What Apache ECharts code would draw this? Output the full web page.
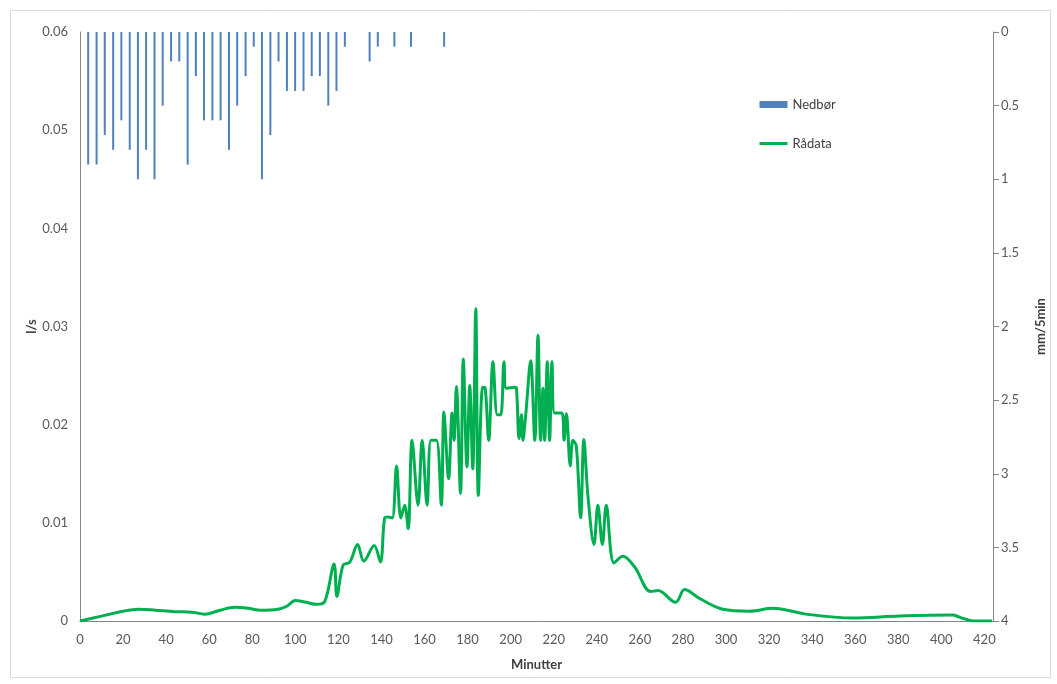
<!DOCTYPE html>
<html>
<head>
<meta charset="utf-8">
<script src="https://cdn.jsdelivr.net/npm/echarts@6/dist/echarts.min.js"></script>
<style>
html,body{margin:0;padding:0;background:#fff;}
#chart{width:1057px;height:684px;}
</style>
</head>
<body>
<div id="chart"></div>
<script>
// Rain (Nedbør), mm/5min, plotted hanging from the top on the right (inverted) axis
const rainMinutes = [3.8, 7.7, 11.5, 15.4, 19.2, 23.1, 26.9, 30.7, 34.6, 38.4, 42.3, 46.1, 50.0, 53.8, 57.6, 61.5, 65.3, 69.2, 73.0, 76.9, 80.7, 84.5, 88.4, 92.2, 96.1, 99.9, 103.8, 107.6, 111.4, 115.3, 119.1, 123.0, 134.5, 138.3, 146.0, 153.7, 169.1];
const rainValues  = [0.9, 0.9, 0.7, 0.8, 0.6, 0.8, 1.0, 0.8, 1.0, 0.5, 0.2, 0.2, 0.9, 0.3, 0.6, 0.6, 0.6, 0.8, 0.5, 0.3, 0.1, 1.0, 0.7, 0.2, 0.4, 0.4, 0.4, 0.3, 0.3, 0.5, 0.4, 0.1, 0.2, 0.1, 0.1, 0.1, 0.1];

// Raw flow data (Rådata), l/s
const flowMinutes = [0, 10, 20, 27, 35, 44, 52, 58, 65, 72, 78, 84, 92, 96, 100, 105, 110, 113.7, 118, 119.3, 122.2, 125.3, 128.9, 131.8, 136.6, 139.5, 141.5, 143.1, 145, 147, 149, 150.8, 152.4, 154.2, 157, 158.9, 161.2, 163, 165.5, 167.8, 169, 171.2, 172.8, 173.7, 174.8, 176.7, 178, 179.7, 181, 182.4, 183.8, 185, 187, 188.2, 189.8, 191.8, 193.8, 195.4, 196.9, 198, 201.9, 202.7, 203.9, 205, 205.7, 207, 209.3, 211.2, 212.7, 213.9, 215, 215.8, 217, 218.1, 219.2, 220.4, 223.8, 224.8, 225.9, 227.7, 228.9, 230.5, 232.5, 234, 235.9, 238.7, 240.5, 242.6, 244.4, 248, 252.1, 257.6, 265, 268.4, 276.6, 280.8, 287.7, 298.5, 311, 321.8, 337.2, 358.9, 380.5, 405.3, 408.4, 414.6, 423.5];
const flowValues  = [0, 0.0005, 0.001, 0.0012, 0.0011, 0.00095, 0.0009, 0.0007, 0.0011, 0.0014, 0.0013, 0.0011, 0.0012, 0.0015, 0.0021, 0.0019, 0.0017, 0.002, 0.0058, 0.0025, 0.0057, 0.006, 0.0078, 0.0061, 0.0077, 0.006, 0.0105, 0.0106, 0.0105, 0.0158, 0.0105, 0.0118, 0.0094, 0.0184, 0.0118, 0.0184, 0.0118, 0.0184, 0.0184, 0.0118, 0.0213, 0.0145, 0.0212, 0.0184, 0.0239, 0.013, 0.0267, 0.0157, 0.024, 0.0155, 0.0318, 0.0128, 0.0238, 0.0237, 0.0184, 0.0264, 0.021, 0.021, 0.0264, 0.0237, 0.0238, 0.0237, 0.0186, 0.021, 0.0184, 0.021, 0.0265, 0.0184, 0.0291, 0.0184, 0.0237, 0.0184, 0.0264, 0.0184, 0.0264, 0.0212, 0.0212, 0.0184, 0.0211, 0.0158, 0.0184, 0.0178, 0.0105, 0.0185, 0.0127, 0.0078, 0.0118, 0.0078, 0.0118, 0.0059, 0.0066, 0.0055, 0.003, 0.0031, 0.0019, 0.0032, 0.0023, 0.0012, 0.001, 0.0013, 0.0007, 0.0003, 0.0005, 0.0006, 0.0004, 0, 0];

const xTicks = {min: 0, max: 424, interval: 20};
const leftTicks = {min: 0, max: 0.06, interval: 0.01};
const rightTicks = {min: 0, max: 4, interval: 0.5};

const FONT = 'Lato, "Open Sans", sans-serif';
const chart = echarts.init(document.getElementById('chart'), null, {renderer: 'canvas'});

const rainData = rainMinutes.map((m, i) => [m, rainValues[i]]);
const flowData = flowMinutes.map((m, i) => [m, flowValues[i]]);

chart.setOption({
  animation: false,
  backgroundColor: '#ffffff',
  textStyle: {fontFamily: FONT},
  grid: {left: 80, right: 64, top: 32, bottom: 63, containLabel: false, outerBoundsMode: 'none'},
  graphic: [{
    type: 'rect', left: 8, top: 8, silent: true,
    shape: {width: 1040, height: 667},
    style: {fill: 'none', stroke: '#d9d9d9', lineWidth: 1}
  }],
  legend: {
    orient: 'vertical', left: 753, top: 93, itemGap: 26,
    itemWidth: 28, itemHeight: 7,
    textStyle: {fontFamily: FONT, fontSize: 13, color: '#404040'},
    data: [
      {name: 'Nedbør', icon: 'rect'},
      {name: 'Rådata', itemStyle: {opacity: 0}, lineStyle: {width: 3}}
    ]
  },
  xAxis: {
    type: 'value', min: xTicks.min, max: xTicks.max, interval: xTicks.interval,
    name: 'Minutter', nameLocation: 'middle', nameGap: 37,
    nameTextStyle: {fontFamily: FONT, fontSize: 13, fontWeight: 'bold', color: '#404040'},
    axisLine: {show: true, onZero: false, lineStyle: {color: '#868686', width: 1}},
    axisTick: {show: false},
    splitLine: {show: false},
    axisLabel: {
      fontFamily: FONT, fontSize: 13, color: '#595959', margin: 12,
      showMaxLabel: false,
      formatter: v => (v % 20 === 0 ? String(v) : '')
    }
  },
  yAxis: [{
    type: 'value', position: 'left', min: leftTicks.min, max: leftTicks.max, interval: leftTicks.interval,
    name: 'l/s', nameLocation: 'middle', nameGap: 42, nameMoveOverlap: false,
    nameTextStyle: {fontFamily: FONT, fontSize: 13, fontWeight: 'bold', color: '#404040'},
    axisLine: {show: true, lineStyle: {color: '#868686', width: 1}},
    axisTick: {show: false},
    splitLine: {show: false},
    axisLabel: {fontFamily: FONT, fontSize: 13, color: '#595959', margin: 12,
      formatter: v => (v === 0 ? '0' : v.toFixed(2))}
  }, {
    type: 'value', position: 'right', inverse: true,
    min: rightTicks.min, max: rightTicks.max, interval: rightTicks.interval,
    name: 'mm/5min', nameLocation: 'middle', nameGap: 41, nameMoveOverlap: false,
    nameTextStyle: {fontFamily: FONT, fontSize: 13, fontWeight: 'bold', color: '#404040'},
    axisLine: {show: true, lineStyle: {color: '#868686', width: 1}},
    axisTick: {show: true, length: 6, inside: false, lineStyle: {color: '#868686'}},
    splitLine: {show: false},
    axisLabel: {fontFamily: FONT, fontSize: 13, color: '#595959', margin: 8}
  }],
  series: [{
    name: 'Nedbør', type: 'bar', yAxisIndex: 1,
    barWidth: 2,
    itemStyle: {color: '#4f81bd'},
    data: rainData
  }, {
    name: 'Rådata', type: 'line', yAxisIndex: 0,
    smooth: 0.35, symbol: 'none', showSymbol: false,
    lineStyle: {color: '#00b050', width: 3},
    itemStyle: {color: '#00b050'},
    data: flowData
  }]
});
</script>
</body>
</html>
